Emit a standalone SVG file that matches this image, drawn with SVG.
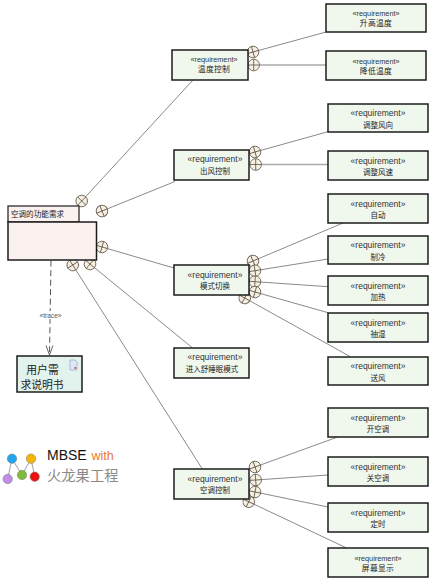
<svg xmlns="http://www.w3.org/2000/svg" width="434" height="583" viewBox="0 0 434 583">
<style>
text{font-family:"Liberation Sans","Noto Sans CJK SC",sans-serif;fill:#222;text-anchor:middle}
.cj{font-family:"Noto Sans CJK SC",sans-serif}
.box{fill:#f0f8ee;stroke:#1c1c1c;stroke-width:1.5}
.st{font-size:8.5px;fill:#333}
.st2{font-size:7.3px;fill:#333}
.lb{font-size:7.5px}
.lb2{font-size:7.8px}
.ln{stroke:#8a8a8a;stroke-width:1;fill:none}
.hl{stroke:#aaa;stroke-width:1.6;fill:none}
.cc circle{fill:#f6efe2;stroke:#6e6458;stroke-width:.9}
.cc path{stroke:#5a5248;stroke-width:.8;fill:none}
</style>
<defs>
<g id="c" class="cc"><circle r="5.8"/><path d="M-5.800 0H5.800M0-5.800V5.800"/></g>
</defs>
<rect width="434" height="583" fill="#fff"/>
<g id="connectors">
<path class="ln" d="M81.700 201 193 80M102 211 175 181.500M102 247 174 268M90 264 192 347.500M72.700 265 202 468.500"/>
<path class="ln" d="M253 52 326 32M255 152 328 131.700M253 261 343 223M255 270.700 328 259M255 281.700 328 286.700M255 292 328 312.700M244.700 298 350 356.500M255 467 337.700 437M255.700 480 328 475M255 492 328 507M248.700 501.700 346 547.700"/>
<path class="hl" d="M253.700 65H326M255.700 164.500H328"/>
<path d="M51 260.700 49.500 355" fill="none" stroke="#555" stroke-width="1" stroke-dasharray="6 3.500"/>
<path d="M46 345.500 49.500 355 53 345.500" fill="none" stroke="#555" stroke-width=".9"/>
<rect x="38" y="311" width="25" height="8" fill="#fff"/>
<text x="50.500" y="317.500" font-size="6.600" style="fill:#555">«trace»</text>
<use href="#c" transform="translate(81.700 201) rotate(45)"/>
<use href="#c" transform="translate(102 211) rotate(-22)"/>
<use href="#c" transform="translate(102 247) rotate(16)"/>
<use href="#c" transform="translate(90 264) rotate(40)"/>
<use href="#c" transform="translate(72.700 265) rotate(57)"/>
<use href="#c" transform="translate(253 52) rotate(-16)"/>
<use href="#c" transform="translate(253.700 65)"/>
<use href="#c" transform="translate(255 152) rotate(-16)"/>
<use href="#c" transform="translate(255.700 164.500)"/>
<use href="#c" transform="translate(253 261) rotate(-23)"/>
<use href="#c" transform="translate(255 270.700) rotate(-9)"/>
<use href="#c" transform="translate(255 281.700) rotate(4)"/>
<use href="#c" transform="translate(255 292) rotate(16)"/>
<use href="#c" transform="translate(244.700 298) rotate(29)"/>
<use href="#c" transform="translate(255 467) rotate(-20)"/>
<use href="#c" transform="translate(255.700 480) rotate(-4)"/>
<use href="#c" transform="translate(255 492) rotate(11)"/>
<use href="#c" transform="translate(248.700 501.700) rotate(25)"/>
</g>
<g id="pkg">
<rect x="8" y="206" width="71" height="16" fill="#fbf1ee" stroke="#1c1c1c" stroke-width="1.200"/>
<rect x="8" y="222" width="88.500" height="38" fill="#fbf1ee" stroke="#1c1c1c" stroke-width="1.500"/>
<text class="cj" x="37.500" y="216.500" font-size="7.600">空调的功能需求</text>
</g>
<g id="doc">
<rect x="17" y="356" width="65" height="36" fill="#e2f3ee" stroke="#1c1c1c" stroke-width="1.500"/>
<path d="M70 360H75L77 362V370H70Z" fill="#dfe6f5" stroke="#9aa8c8" stroke-width=".7"/>
<circle cx="75.300" cy="368" r="1" fill="#e03040"/>
<text class="cj" x="42.500" y="373.500" font-size="10.800">用户需</text>
<text class="cj" x="42" y="389.300" font-size="10.800">求说明书</text>
</g>
<g id="n1"><rect class="box" x="172" y="50" width="76" height="30"/><text class="st2" x="214" y="62">«requirement»</text><text class="cj lb2" x="214" y="72" letter-spacing=".3">温度控制</text></g>
<g id="n2"><rect class="box" x="174" y="150" width="75" height="30"/><text class="st" x="215" y="162">«requirement»</text><text class="cj lb" x="215" y="174">出风控制</text></g>
<g id="n3"><rect class="box" x="174" y="265" width="75" height="30"/><text class="st" x="215" y="277.500">«requirement»</text><text class="cj lb" x="215" y="289">模式切换</text></g>
<g id="n4"><rect class="box" x="174" y="348" width="75" height="30"/><text class="st" x="215" y="360">«requirement»</text><text class="cj lb" x="212" y="372">进入舒睡眠模式</text></g>
<g id="n5"><rect class="box" x="174" y="469" width="75" height="30"/><text class="st" x="215" y="481.500">«requirement»</text><text class="cj lb" x="215" y="493">空调控制</text></g>
<g id="a1"><rect class="box" x="326" y="4" width="100" height="28"/><text class="st2" x="376" y="16">«requirement»</text><text class="cj lb2" x="376" y="25.500" letter-spacing=".3">升高温度</text></g>
<g id="a2"><rect class="box" x="326" y="51" width="100" height="29"/><text class="st2" x="376" y="64">«requirement»</text><text class="cj lb2" x="376" y="73.500" letter-spacing=".3">降低温度</text></g>
<g id="b1"><rect class="box" x="328" y="104" width="100" height="28"/><text class="st" x="378" y="116">«requirement»</text><text class="cj lb" x="378" y="127.500">调整风向</text></g>
<g id="b2"><rect class="box" x="328" y="151" width="100" height="29"/><text class="st" x="378" y="164">«requirement»</text><text class="cj lb" x="378" y="175">调整风速</text></g>
<g id="m1"><rect class="box" x="328" y="194" width="100" height="29"/><text class="st" x="378" y="206.500">«requirement»</text><text class="cj lb" x="378" y="218">自动</text></g>
<g id="m2"><rect class="box" x="328" y="236" width="100" height="28"/><text class="st" x="378" y="248">«requirement»</text><text class="cj lb" x="378" y="260">制冷</text></g>
<g id="m3"><rect class="box" x="328" y="276" width="100" height="29"/><text class="st" x="378" y="288.500">«requirement»</text><text class="cj lb" x="378" y="300">加热</text></g>
<g id="m4"><rect class="box" x="328" y="313" width="100" height="29"/><text class="st" x="378" y="325.500">«requirement»</text><text class="cj lb" x="378" y="337">抽湿</text></g>
<g id="m5"><rect class="box" x="328" y="357" width="100" height="28"/><text class="st" x="378" y="369">«requirement»</text><text class="cj lb" x="378" y="381">送风</text></g>
<g id="k1"><rect class="box" x="328" y="408" width="100" height="29"/><text class="st" x="378" y="421">«requirement»</text><text class="cj lb" x="378" y="432">开空调</text></g>
<g id="k2"><rect class="box" x="328" y="457" width="100" height="29"/><text class="st" x="378" y="470">«requirement»</text><text class="cj lb" x="378" y="481">关空调</text></g>
<g id="k3"><rect class="box" x="328" y="503" width="100" height="29"/><text class="st" x="378" y="516">«requirement»</text><text class="cj lb" x="378" y="527">定时</text></g>
<g id="k4"><rect class="box" x="328" y="548" width="100" height="29"/><text class="st2" x="378" y="560.500">«requirement»</text><text class="cj lb2" x="378" y="570.500" letter-spacing=".3">屏幕显示</text></g>
<g id="logo">
<path d="M7.700 479 12 458.700 22 475 31 458.700 34.700 476.700" fill="none" stroke="#888" stroke-width=".8"/>
<circle cx="12" cy="458.700" r="4.700" fill="#1ea7ee" stroke="#777" stroke-width=".5"/>
<circle cx="31" cy="458.700" r="4.700" fill="#f7b500" stroke="#777" stroke-width=".5"/>
<circle cx="7.700" cy="479" r="4.700" fill="#c08de8" stroke="#777" stroke-width=".5"/>
<circle cx="22" cy="475" r="4.700" fill="#7dbb3c" stroke="#777" stroke-width=".5"/>
<circle cx="34.700" cy="476.700" r="4.700" fill="#ee0f0f" stroke="#777" stroke-width=".5"/>
<text x="47" y="460" font-size="14" style="text-anchor:start;fill:#111">MBSE</text>
<text x="91.500" y="460" font-size="12.500" style="text-anchor:start;fill:#e8792f">with</text>
<text class="cj" x="47" y="481" font-size="14.300" style="text-anchor:start;fill:#8a8a8a">火龙果工程</text>
</g>
</svg>
